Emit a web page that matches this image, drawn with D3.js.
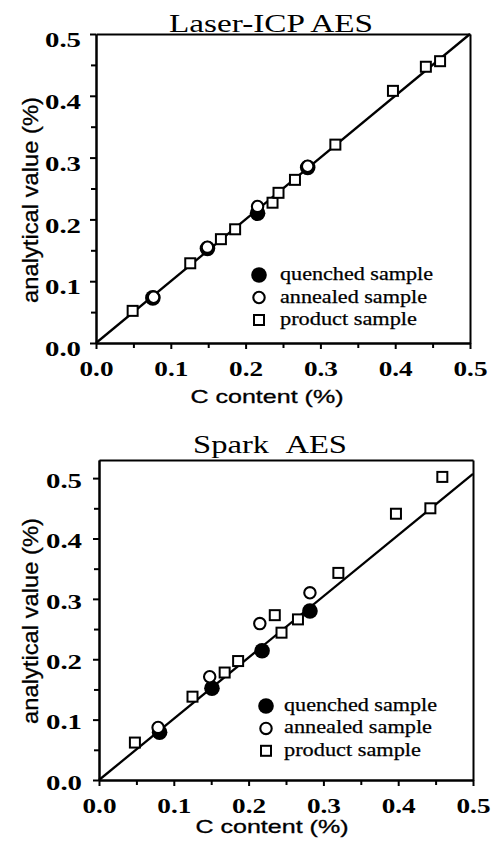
<!DOCTYPE html>
<html>
<head>
<meta charset="utf-8">
<script src="https://cdn.jsdelivr.net/npm/d3@7"></script>
<style>
body { margin: 0; background: #fff; }
svg { display: block; }
.axis path, .axis line { stroke: #000; stroke-width: 2; }
.axis text { font-family: "Liberation Serif", serif; font-weight: bold; font-size: 20.5px; fill: #000; }
.title { font-family: "Liberation Serif", serif; font-size: 26px; }
.legend { font-family: "Liberation Serif", serif; font-size: 18px; stroke: #000; stroke-width: 0.25; }
.axTitle { font-family: "Liberation Sans", Arial, sans-serif; stroke: #000; stroke-width: 0.3; }
</style>
</head>
<body>
<script>
// values (C content %, analytical value %)
var laserQuenchedX = [0.076, 0.149, 0.216, 0.283];
var laserQuenchedY = [0.073, 0.153, 0.210, 0.284];
var laserAnnealedX = [0.077, 0.149, 0.216, 0.283];
var laserAnnealedY = [0.074, 0.155, 0.221, 0.286];
var laserProductX = [0.049, 0.126, 0.167, 0.186, 0.236, 0.244, 0.266, 0.320, 0.397, 0.441, 0.460];
var laserProductY = [0.052, 0.129, 0.168, 0.184, 0.227, 0.243, 0.264, 0.321, 0.408, 0.447, 0.456];
var laserFitX = [0, 0.5];
var laserFitY = [0, 0.5];

var sparkQuenchedX = [0.081, 0.151, 0.218, 0.282];
var sparkQuenchedY = [0.079, 0.152, 0.214, 0.280];
var sparkAnnealedX = [0.079, 0.148, 0.215, 0.282];
var sparkAnnealedY = [0.087, 0.171, 0.259, 0.310];
var sparkProductX = [0.048, 0.125, 0.168, 0.186, 0.235, 0.244, 0.266, 0.320, 0.397, 0.443, 0.459];
var sparkProductY = [0.062, 0.138, 0.178, 0.197, 0.273, 0.244, 0.266, 0.343, 0.441, 0.450, 0.502];
var sparkFitX = [0, 0.5];
var sparkFitY = [0, 0.507];

var majorTicks = [0.0, 0.1, 0.2, 0.3, 0.4, 0.5];
var minorTicks = [0.05, 0.15, 0.25, 0.35, 0.45];
var legendLabels = ["quenched sample", "annealed sample", "product sample"];

var svg = d3.select("body").append("svg")
    .attr("width", 497)
    .attr("height", 843);

function zip(xs, ys) {
  return xs.map(function(d, i) { return [d, ys[i]]; });
}

function drawPanel(p) {
  var x = d3.scaleLinear().domain([0, 0.5]).range([p.left, p.right]);
  var y = d3.scaleLinear().domain([0, p.ymax]).range([p.bottom, p.top]);
  var g = svg.append("g");

  // box: top and right sides
  g.append("g").attr("class", "axis")
      .attr("transform", "translate(0," + p.top + ")")
      .call(d3.axisTop(x).tickValues([]).tickSizeOuter(0));
  g.append("g").attr("class", "axis")
      .attr("transform", "translate(" + p.right + ",0)")
      .call(d3.axisRight(y).tickValues([]).tickSizeOuter(0));

  // minor ticks
  g.append("g").attr("class", "axis")
      .attr("transform", "translate(0," + p.bottom + ")")
      .call(d3.axisBottom(x).tickValues(minorTicks).tickSize(5).tickFormat("").tickSizeOuter(0));
  g.append("g").attr("class", "axis")
      .attr("transform", "translate(" + p.left + ",0)")
      .call(d3.axisLeft(y).tickValues(minorTicks).tickSize(5).tickFormat("").tickSizeOuter(0));

  // major ticks with labels
  var xa = g.append("g").attr("class", "axis")
      .attr("transform", "translate(0," + p.bottom + ")")
      .call(d3.axisBottom(x).tickValues(majorTicks).tickSize(6).tickPadding(12)
        .tickFormat(d3.format(".1f")).tickSizeOuter(0));
  xa.selectAll("text").attr("textLength", 34).attr("lengthAdjust", "spacingAndGlyphs");

  var ya = g.append("g").attr("class", "axis")
      .attr("transform", "translate(" + p.left + ",0)")
      .call(d3.axisLeft(y).tickValues(majorTicks).tickSize(6).tickPadding(p.ypad)
        .tickFormat(d3.format(".1f")).tickSizeOuter(0));
  ya.selectAll("text").attr("dy", p.ydy).attr("textLength", 36).attr("lengthAdjust", "spacingAndGlyphs");

  // fit line
  var line = d3.line()
      .x(function(d) { return x(d[0]); })
      .y(function(d) { return y(d[1]); });
  g.append("path")
      .datum(zip(p.fitX, p.fitY))
      .attr("d", line)
      .attr("fill", "none")
      .attr("stroke", "#000")
      .attr("stroke-width", 2.3);

  // product samples (squares)
  g.selectAll(".prod")
      .data(zip(p.prodX, p.prodY))
      .enter().append("rect")
      .attr("x", function(d) { return x(d[0]) - 5; })
      .attr("y", function(d) { return y(d[1]) - 5; })
      .attr("width", 10)
      .attr("height", 10)
      .attr("fill", "#fff")
      .attr("stroke", "#000")
      .attr("stroke-width", 2);

  // quenched (filled) then annealed (open) on top
  g.selectAll(".quen")
      .data(zip(p.quenX, p.quenY))
      .enter().append("circle")
      .attr("cx", function(d) { return x(d[0]); })
      .attr("cy", function(d) { return y(d[1]); })
      .attr("r", 7.8)
      .attr("fill", "#000");

  g.selectAll(".anne")
      .data(zip(p.annX, p.annY))
      .enter().append("circle")
      .attr("cx", function(d) { return x(d[0]); })
      .attr("cy", function(d) { return y(d[1]); })
      .attr("r", 5.7)
      .attr("fill", "#fff")
      .attr("stroke", "#000")
      .attr("stroke-width", 2.1);

  // legend
  var lg = g.append("g").attr("transform", "translate(" + p.legX + "," + p.legY + ")");
  lg.append("circle").attr("cx", 0).attr("cy", 0).attr("r", 7.8).attr("fill", "#000");
  lg.append("circle").attr("cx", 0).attr("cy", p.legStep).attr("r", 5.7)
      .attr("fill", "#fff").attr("stroke", "#000").attr("stroke-width", 2.1);
  lg.append("rect").attr("x", -5).attr("y", 2 * p.legStep - 5).attr("width", 10).attr("height", 10)
      .attr("fill", "#fff").attr("stroke", "#000").attr("stroke-width", 2);
  lg.selectAll("text")
      .data(legendLabels)
      .enter().append("text")
      .attr("class", "legend")
      .attr("x", p.legTextX)
      .attr("y", function(d, i) { return i * p.legStep + 5; })
      .attr("textLength", function(d, i) { return p.legLen[i]; })
      .attr("lengthAdjust", "spacingAndGlyphs")
      .text(function(d) { return d; });

  // titles
  svg.append("text")
      .attr("class", "title")
      .attr("text-anchor", "middle")
      .attr("x", p.titleX)
      .attr("y", p.titleY)
      .attr("textLength", p.titleLen)
      .attr("lengthAdjust", "spacingAndGlyphs")
      .text(p.title);

  svg.append("text")
      .attr("class", "axTitle")
      .attr("text-anchor", "middle")
      .attr("font-size", 18.5)
      .attr("x", p.xlabX)
      .attr("y", p.xlabY)
      .attr("textLength", 153)
      .attr("lengthAdjust", "spacingAndGlyphs")
      .text("C content (%)");

  svg.append("text")
      .attr("class", "axTitle")
      .attr("text-anchor", "middle")
      .attr("font-size", 22)
      .attr("transform", "translate(" + p.ylabX + "," + p.ylabY + ")rotate(-90)")
      .attr("textLength", 206)
      .attr("lengthAdjust", "spacingAndGlyphs")
      .text("analytical value (%)");
}

drawPanel({
  left: 96, right: 470, top: 34, bottom: 343, ymax: 0.5,
  ypad: 9, ydy: "0.62em",
  quenX: laserQuenchedX, quenY: laserQuenchedY,
  annX: laserAnnealedX, annY: laserAnnealedY,
  prodX: laserProductX, prodY: laserProductY,
  fitX: laserFitX, fitY: laserFitY,
  legX: 259, legY: 275, legStep: 22.5, legTextX: 21, legLen: [153, 147, 137],
  title: "Laser-ICP AES", titleX: 271, titleY: 32, titleLen: 204,
  xlabX: 267, xlabY: 403,
  ylabX: 38, ylabY: 200
});

drawPanel({
  left: 99, right: 473, top: 460, bottom: 780, ymax: 0.53,
  ypad: 11, ydy: "0.45em",
  quenX: sparkQuenchedX, quenY: sparkQuenchedY,
  annX: sparkAnnealedX, annY: sparkAnnealedY,
  prodX: sparkProductX, prodY: sparkProductY,
  fitX: sparkFitX, fitY: sparkFitY,
  legX: 266, legY: 706, legStep: 22.4, legTextX: 18, legLen: [153, 148, 137],
  title: "Spark\u00a0\u00a0AES", titleX: 270, titleY: 453, titleLen: 154,
  xlabX: 272, xlabY: 833,
  ylabX: 38, ylabY: 621
});
</script>
</body>
</html>
